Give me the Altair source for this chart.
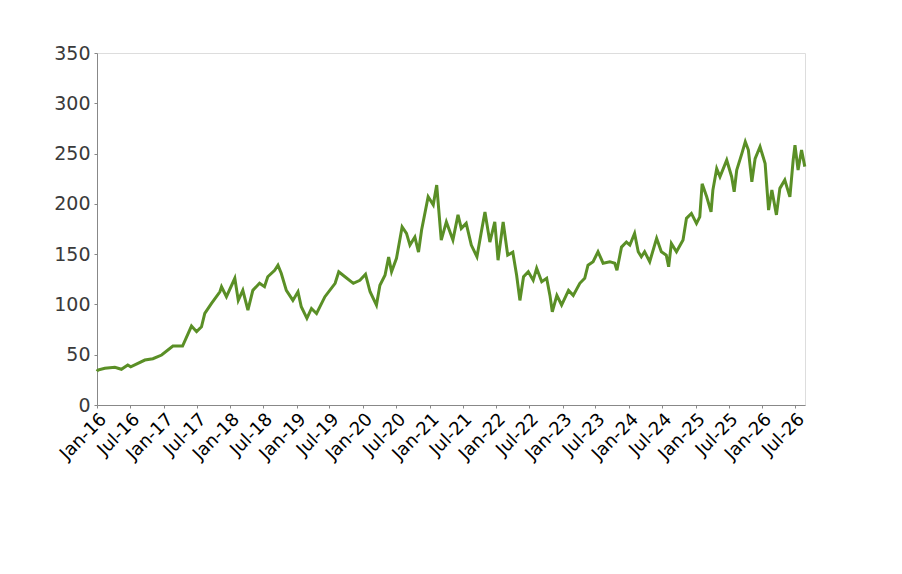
import altair as alt
import pandas as pd

dates = [
    "2016-01-01", "2016-01-06", "2016-02-13", "2016-04-08", "2016-05-14", "2016-06-18",
    "2016-07-04", "2016-09-20", "2016-11-03", "2016-12-21", "2017-02-21", "2017-04-15",
    "2017-06-03", "2017-07-01", "2017-07-28", "2017-08-15", "2017-09-21", "2017-11-06",
    "2017-11-15", "2017-12-12", "2018-01-27", "2018-02-15", "2018-03-12", "2018-04-09",
    "2018-05-06", "2018-06-12", "2018-07-09", "2018-07-27", "2018-09-03", "2018-09-21",
    "2018-10-09", "2018-11-06", "2018-12-12", "2019-01-09", "2019-01-27", "2019-02-27",
    "2019-03-24", "2019-04-21", "2019-06-06", "2019-08-01", "2019-08-21", "2019-09-24",
    "2019-11-09", "2019-12-15", "2020-01-15", "2020-02-09", "2020-03-15", "2020-04-03",
    "2020-05-01", "2020-05-21", "2020-06-06", "2020-07-03", "2020-08-03", "2020-08-27",
    "2020-09-15", "2020-10-12", "2020-11-01", "2020-11-18", "2020-12-24", "2021-01-21",
    "2021-02-09", "2021-03-06", "2021-04-03", "2021-05-09", "2021-06-06", "2021-06-24",
    "2021-07-21", "2021-08-18", "2021-09-18", "2021-10-12", "2021-11-01", "2021-11-28",
    "2021-12-25", "2022-01-12", "2022-02-09", "2022-03-06", "2022-04-03", "2022-04-24",
    "2022-05-12", "2022-06-01", "2022-06-27", "2022-07-24", "2022-08-12", "2022-09-09",
    "2022-10-06", "2022-10-24", "2022-11-06", "2022-12-01", "2022-12-27", "2023-02-03",
    "2023-03-01", "2023-04-06", "2023-05-03", "2023-05-21", "2023-06-18", "2023-07-15",
    "2023-08-12", "2023-09-18", "2023-10-15", "2023-10-27", "2023-11-21", "2023-12-18",
    "2024-01-06", "2024-02-01", "2024-02-21", "2024-03-09", "2024-03-27", "2024-04-24",
    "2024-06-01", "2024-06-27", "2024-07-24", "2024-08-06", "2024-08-21", "2024-09-18",
    "2024-10-24", "2024-11-12", "2024-12-09", "2025-01-06", "2025-01-24", "2025-02-06",
    "2025-03-03", "2025-03-27", "2025-04-06", "2025-04-27", "2025-05-15", "2025-06-21",
    "2025-07-18", "2025-08-01", "2025-08-15", "2025-09-12", "2025-10-01", "2025-10-18",
    "2025-11-06", "2025-11-24", "2025-12-21", "2026-01-18", "2026-02-06", "2026-02-24",
    "2026-03-21", "2026-04-09", "2026-05-06", "2026-06-03", "2026-06-21", "2026-07-01",
    "2026-07-18", "2026-08-06", "2026-08-24",
]
values = [
    33.5, 34.8, 36.5, 37.5, 35.5, 39.8,
    38.0, 44.7, 46.0, 49.7, 58.6, 58.6,
    78.5, 72.9, 77.8, 91.0, 101.0, 112.6,
    117.6, 107.7, 126.0, 104.0, 114.0, 94.4,
    114.0, 121.0, 117.6, 127.5, 134.0, 139.0,
    131.0, 114.0, 104.0, 112.6, 97.7, 86.2,
    96.0, 91.0, 107.7, 121.0, 132.5, 127.5,
    121.0, 124.0, 130.0, 112.6, 99.4, 119.0,
    129.0, 147.0, 132.5, 145.8, 177.0, 170.6,
    159.0, 167.0, 152.0, 174.0, 207.0, 199.0,
    218.7, 164.0, 182.0, 164.0, 189.0, 175.6,
    180.6, 159.0, 147.4, 172.0, 192.0, 162.0,
    182.0, 144.0, 182.0, 149.0, 152.0, 129.0,
    104.0, 127.5, 132.5, 124.0, 136.0, 122.6,
    126.0, 109.0, 92.7, 109.0, 99.4, 114.0,
    109.0, 121.0, 126.0, 139.0, 142.5, 152.4,
    141.0, 142.5, 141.0, 134.0, 157.0, 162.0,
    159.0, 170.6, 152.4, 147.4, 152.4, 142.5,
    165.7, 152.4, 149.0, 137.5, 160.7, 152.4,
    164.0, 185.6, 190.5, 180.6, 187.0, 220.0,
    207.0, 192.0, 213.7, 235.0, 227.0, 243.5,
    227.0, 212.0, 233.6, 250.0, 261.7, 253.5,
    222.0, 245.0, 256.8, 240.0, 193.8, 213.7,
    189.0, 215.4, 223.7, 207.0, 243.5, 258.4,
    233.6, 253.5, 237.0,
]
x_domain = ["2016-01-01", "2026-08-25"]
y_ticks = [0, 50, 100, 150, 200, 250, 300, 350]
x_ticks = [f"{y}-{m:02d}-01" for y in range(2016, 2027) for m in (1, 7)]

df = pd.DataFrame({"date": pd.to_datetime(dates), "value": values})
tick_vals = [pd.Timestamp(t).value // 10**6 for t in x_ticks]

chart = (
    alt.Chart(df)
    .mark_line(color="#5a8f26", strokeWidth=3)
    .encode(
        x=alt.X(
            "date:T",
            scale=alt.Scale(domain=x_domain),
            axis=alt.Axis(
                title=None,
                values=tick_vals,
                format="%b-%y",
                labelAngle=-45,
                labelFontSize=18,
                labelFont="DejaVu Sans",
                labelColor="#000000",
                tickSize=3,
                labelPadding=2,
                grid=False,
                domainColor="#888888",
                tickColor="#888888",
                labelOverlap=False,
            ),
        ),
        y=alt.Y(
            "value:Q",
            scale=alt.Scale(domain=[0, 350], nice=False),
            axis=alt.Axis(
                title=None,
                values=y_ticks,
                labelFontSize=19,
                labelFont="DejaVu Sans",
                labelColor="#3a3a3a",
                tickSize=3,
                labelPadding=4,
                grid=False,
                domainColor="#888888",
                tickColor="#888888",
            ),
        ),
    )
    .properties(
        width=708,
        height=352,
        autosize=alt.AutoSizeParams(type="none"),
        padding={"left": 89, "top": 45, "right": 80, "bottom": 160},
    )
    .configure_view(stroke="#888888", strokeWidth=1.3)
    .configure(background="white")
)

chart.save("out.html", embed_options={"renderer": "svg", "actions": False})
